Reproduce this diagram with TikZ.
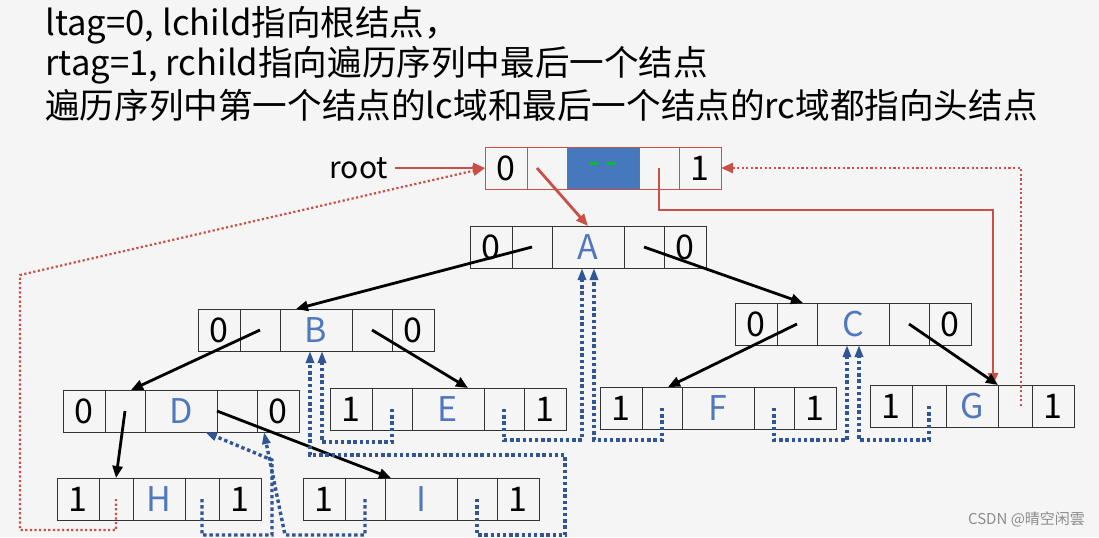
\documentclass[tikz,border=0pt]{standalone}
\usepackage{fontspec}
\setmainfont{Noto Sans CJK SC}
\usetikzlibrary{positioning,arrows.meta}

\definecolor{linkred}{RGB}{200,80,70}
\definecolor{threadblue}{RGB}{50,85,150}
\definecolor{letterblue}{RGB}{80,120,190}
\definecolor{headfill}{RGB}{70,120,190}

% one record: name, x, y, ltag, data, rtag, cell style
\newcommand\rec[7]{%
 \node[tagc,#7,anchor=west] (#1l) at (#2,#3) {#4};
 \node[ptrc,#7,right=0pt of #1l] (#1lc) {};
 \node[datac,#7,right=0pt of #1lc] (#1d) {#5};
 \node[ptrc,#7,right=0pt of #1d] (#1rc) {};
 \node[tagc,#7,right=0pt of #1rc] (#1r) {#6};}

\begin{document}
\begin{tikzpicture}[x=0.5pt,y=-0.5pt,
  cell/.style={draw=black!80, inner sep=0pt, outer sep=0pt, minimum height=21pt,
    font=\fontsize{17}{18}\selectfont},
  tagc/.style={cell, minimum width=21pt},
  ptrc/.style={cell, minimum width=20pt},
  datac/.style={cell, minimum width=36pt, text=letterblue},
  headc/.style={draw=linkred},
  link/.style={-{Triangle[length=6pt,width=5pt]}, line width=1.4pt},
  redlink/.style={link, linkred},
  redthread/.style={-{Triangle[length=6pt,width=5pt]}, linkred, line width=1.1pt, dash pattern=on 1.1pt off 1.2pt},
  thread/.style={-{Triangle[length=6pt,width=4pt]}, threadblue, line width=1.7pt, dash pattern=on 1.7pt off 1.4pt},
  title/.style={anchor=west, inner sep=0pt, font=\fontsize{17.3}{20}\selectfont}]
\fill[black!4] (0,0) rectangle (1099,537);
\useasboundingbox (0,0) rectangle (1099,537);

% heading
\node[title] (t1) at (45,25) {ltag=0, lchild指向根结点，};
\node[title] (t2) at (45,65) {rtag=1, rchild指向遍历序列中最后一个结点};
\node[title] (t3) at (45,105) {遍历序列中第一个结点的lc域和最后一个结点的rc域都指向头结点};

% records
\rec{head}{485}{168}{0}{}{1}{headc}
\node[datac, headc, fill=headfill, text=green!80!black, at=(headd)] (headdata) {-\,-};
\rec{A}{470}{247}{0}{A}{0}{}
\rec{B}{198}{330}{0}{B}{0}{}
\rec{C}{735}{324}{0}{C}{0}{}
\rec{D}{63}{411}{0}{D}{0}{}
\rec{E}{330}{409}{1}{E}{1}{}
\rec{F}{600}{408}{1}{F}{1}{}
\rec{I}{303}{499}{1}{I}{1}{}
\begin{scope}[datac/.append style={minimum width=26pt}, ptrc/.append style={minimum width=17pt}]
\rec{G}{870}{406}{1}{G}{1}{}
\end{scope}
\begin{scope}[datac/.append style={minimum width=26pt}, ptrc/.append style={minimum width=17pt}]
\rec{H}{57}{499}{1}{H}{1}{}
\end{scope}

\node[font=\fontsize{15}{16}\selectfont, left=45pt of headl] (root) {root};
\node[font=\fontsize{7.5}{8}\selectfont, text=black!45, anchor=east] (mark) at (1092,519) {CSDN @晴空闲雲};

% head links
\draw[redlink] (root) -- (headl);
\draw[redlink] ([xshift=-5pt]headlc.center) -- (Ad.north);
\draw[redlink] (headrc.center) |- (993,210) -- (Grc.north west -| 993,0);
\draw[redthread] ([xshift=3pt]Grc.center) |- (headr.east);
\draw[redthread] (Hlc.center) |- (20,530) -- (20,275) -- (headl.west);

% child links
\draw[link] (Alc.center) -- ([xshift=-10pt]Bd.north);
\draw[link] (Arc.center) -- ([xshift=-25pt]Cd.north);
\draw[link] (Blc.center) -- ([xshift=-25pt]Dd.north);
\draw[link] (Brc.center) -- ([xshift=10pt]Ed.north);
\draw[link] (Clc.center) -- ([xshift=-25pt]Fd.north);
\draw[link] (Crc.center) -- (Grc.north west);
\draw[link] (Dlc.center) -- (Hlc.north);
\draw[link] ([xshift=-10pt]Drc.center) -- ([xshift=-15pt]Id.north);

% threads
\draw[thread] (Hrc.center) |- (272,535) -- (272,460) -- ([xshift=12pt]Dd.south);
\draw[thread] (Ilc.center) |- (285,535) -- ([xshift=-7pt]Dr.south);
\draw[thread] (Irc.center) |- (565,535) |- (310,455) -- ([xshift=-3pt]Bd.south);
\draw[thread] (Elc.center) |- (322,442) -- ([xshift=3pt]Bd.south);
\draw[thread] (Erc.center) |- (582,440) -- ([xshift=-3pt]Ad.south);
\draw[thread] (Flc.center) |- (594,440) -- ([xshift=3pt]Ad.south);
\draw[thread] (Frc.center) |- (847,440) -- ([xshift=-3pt]Cd.south);
\draw[thread] (Glc.center) |- (859,440) -- ([xshift=3pt]Cd.south);
\end{tikzpicture}
\end{document}
